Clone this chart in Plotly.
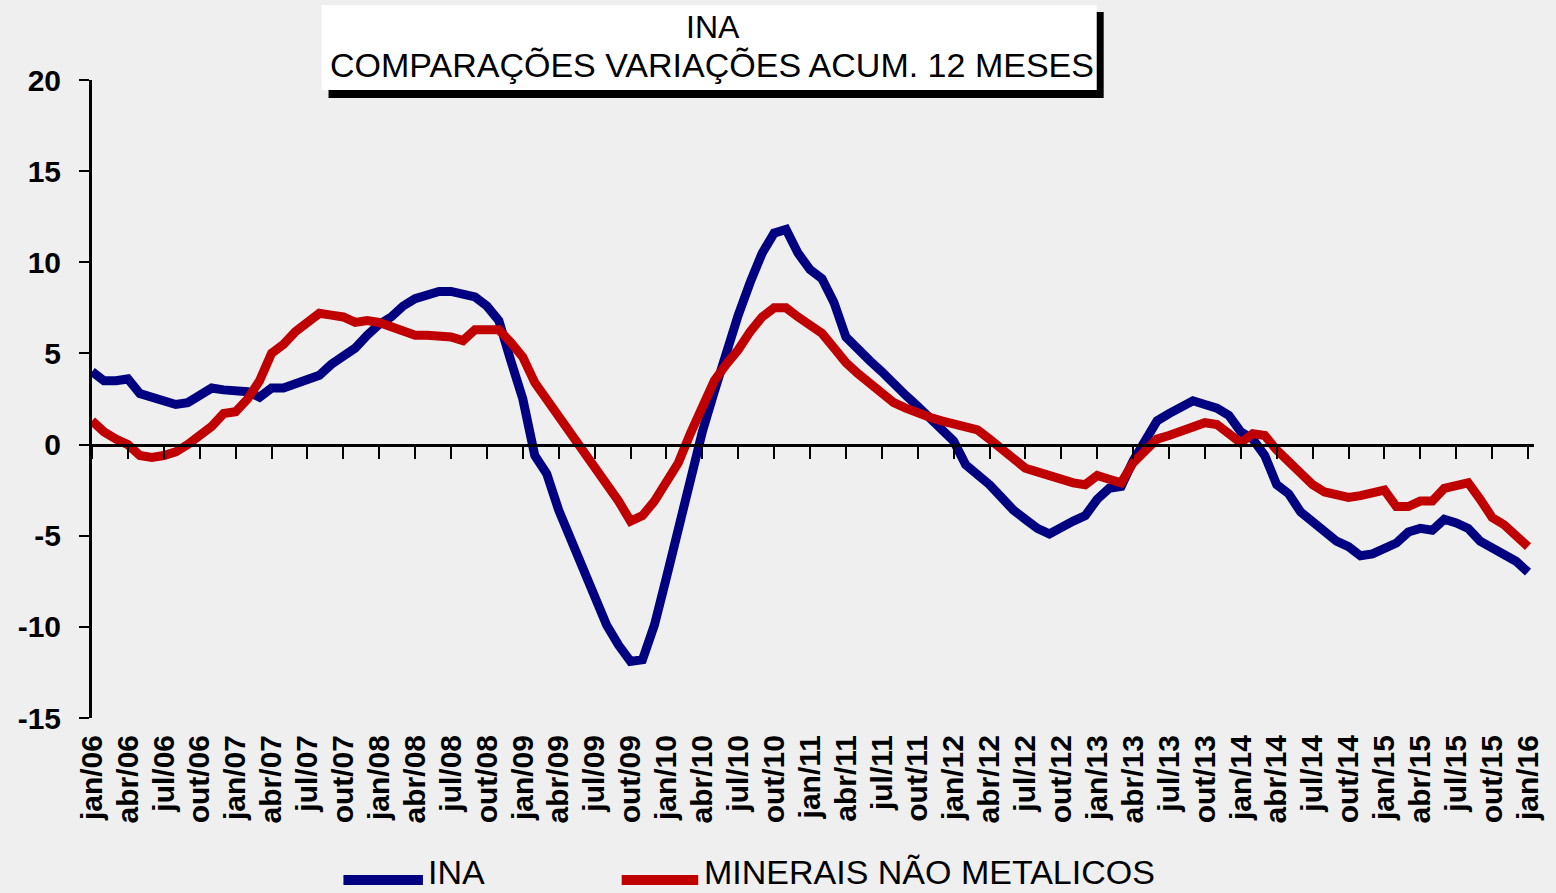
import plotly.graph_objects as go

# ---------------- data ----------------
month_abbr = ["jan", "fev", "mar", "abr", "mai", "jun", "jul", "ago", "set", "out", "nov", "dez"]
years = list(range(6, 17))
categories = [f"{m}/{y:02d}" for y in years for m in month_abbr][:121]
tick_labels = categories[::3]

ina = [
    4.0, 3.5, 3.5, 3.6, 2.8, 2.6, 2.3, 2.2, 2.3, 2.7, 3.1, 3.0,
    3.0, 2.9, 2.6, 3.1, 3.1, 3.3, 3.5, 3.8, 4.4, 4.8, 5.3, 6.0,
    6.6, 7.0, 7.6, 8.0, 8.2, 8.4, 8.4, 8.3, 8.1, 7.6, 6.8, 4.6,
    2.5, -0.6, -1.6, -3.6, -5.2, -6.7, -8.6, -9.9, -11.0, -11.9, -11.8, -9.9,
    -7.3, -4.5, -1.8, 0.7, 2.9, 5.2, 7.1, 8.9, 10.5, 11.6, 11.8, 10.5,
    9.6, 9.1, 7.8, 5.9, 5.2, 4.6, 4.0, 3.3, 2.7, 2.1, 1.5, 0.8,
    0.2, -1.1, -1.6, -2.2, -2.9, -3.6, -4.1, -4.6, -4.9, -4.5, -4.2, -3.9,
    -3.0, -2.4, -2.3, -0.9, 0.3, 1.3, 1.7, 2.0, 2.4, 2.2, 2.0, 1.6,
    0.7, 0.3, -0.6, -2.2, -2.7, -3.7, -4.2, -4.8, -5.3, -5.6, -6.1, -6.0,
    -5.7, -5.4, -4.8, -4.6, -4.7, -4.1, -4.3, -4.6, -5.3, -5.7, -6.0, -6.4,
    -7.0,
]

minerais = [
    1.3, 0.7, 0.3, 0.0, -0.6, -0.7, -0.6, -0.4, 0.0, 0.5, 1.0, 1.7,
    1.8, 2.5, 3.5, 5.0, 5.5, 6.2, 6.7, 7.2, 7.1, 7.0, 6.7, 6.8,
    6.7, 6.5, 6.2, 6.0, 6.0, 6.0, 5.9, 5.7, 6.3, 6.3, 6.3, 5.6,
    4.8, 3.4, 2.5, 1.6, 0.6, -0.4, -1.3, -2.1, -3.1, -4.2, -3.9, -3.1,
    -2.1, -1.0, 0.6, 2.2, 3.5, 4.4, 5.2, 6.2, 7.0, 7.5, 7.5, 7.0,
    6.5, 6.1, 5.3, 4.5, 3.9, 3.4, 2.8, 2.3, 2.0, 1.7, 1.5, 1.3,
    1.1, 0.9, 0.8, 0.3, -0.2, -0.8, -1.3, -1.5, -1.7, -2.0, -2.1, -2.2,
    -1.7, -1.9, -2.1, -1.0, -0.4, 0.3, 0.5, 0.7, 0.9, 1.2, 1.1, 0.6,
    0.1, 0.6, 0.5, -0.3, -0.9, -1.6, -2.2, -2.6, -2.8, -2.9, -2.8, -2.6,
    -2.5, -3.4, -3.4, -3.1, -3.1, -2.4, -2.3, -2.1, -3.0, -4.0, -4.4, -5.0,
    -5.6,
]

series_names = ["INA", "MINERAIS NÃO METALICOS"]
series_colors = ["#000080", "#c00000"]
y_ticks = [20, 15, 10, 5, 0, -5, -10, -15]
y_tick_text = ["20", "15", "10", "5", "0", "-5", "-10", "-15"]
title_lines = ["INA", "COMPARAÇÕES VARIAÇÕES ACUM. 12 MESES"]

# ---------------- layout helpers ----------------
W, H = 1556, 893
L, R, T, B = 92, 13, 80, 175
PW, PH = W - L - R, H - T - B


def px(x):
    return (x - L) / PW


def py(y):
    return (H - B - y) / PH


FONT = "Liberation Sans, Arial, sans-serif"

fig = go.Figure()
fig.add_trace(go.Scatter(x=categories, y=ina, name=series_names[0], mode="lines",
                         line=dict(color=series_colors[0], width=9), xaxis="x", yaxis="y"))
fig.add_trace(go.Scatter(x=categories, y=minerais, name=series_names[1], mode="lines",
                         line=dict(color=series_colors[1], width=9), xaxis="x2", yaxis="y"))

shapes = []
annotations = []

# title box with shadow
shapes.append(dict(type="rect", xref="paper", yref="paper", x0=px(330), x1=px(1110), y0=py(98), y1=py(12),
                   fillcolor="black", line=dict(width=0), layer="above"))
shapes.append(dict(type="rect", xref="paper", yref="paper", x0=px(323), x1=px(1103), y0=py(90), y1=py(5),
                   fillcolor="white", line=dict(width=0), layer="above"))
annotations.append(dict(text=title_lines[0], xref="paper", yref="paper", x=px(717), y=py(27),
                        xanchor="center", yanchor="middle", showarrow=False,
                        font=dict(family=FONT, size=32, color="black")))
annotations.append(dict(text=title_lines[1], xref="paper", yref="paper", x=px(716), y=py(65),
                        xanchor="center", yanchor="middle", showarrow=False,
                        font=dict(family=FONT, size=34, color="black")))

# legend (drawn manually to match long line samples)
legend_pos = [(345, 425, 428), (625, 702, 706)]
for (x0, x1, xt), name, col in zip(legend_pos, series_names, series_colors):
    shapes.append(dict(type="line", xref="paper", yref="paper", x0=px(x0), x1=px(x1), y0=py(880), y1=py(880),
                       line=dict(color=col, width=10)))
    annotations.append(dict(text=name, xref="paper", yref="paper", x=px(xt), y=py(893),
                            xanchor="left", yanchor="bottom", showarrow=False,
                            font=dict(family=FONT, size=34, color="black")))

fig.update_layout(
    width=W, height=H,
    margin=dict(l=L, r=R, t=T, b=B, pad=0),
    paper_bgcolor="#efefef",
    plot_bgcolor="rgba(0,0,0,0)",
    showlegend=False,
    font=dict(family=FONT, color="black"),
    xaxis=dict(
        type="category", categoryorder="array", categoryarray=categories,
        range=[0, 120.5], showgrid=False, zeroline=False, showline=False, ticks="",
        tickmode="array", tickvals=tick_labels, ticktext=tick_labels, tickangle=-90,
        tickfont=dict(family=FONT, size=30, color="black", weight="bold"),
        ticklabelstandoff=10,
    ),
    xaxis2=dict(
        type="category", categoryorder="array", categoryarray=categories,
        matches="x", overlaying="x", anchor="free", position=15 / 35,
        range=[0, 120.5], showgrid=False, zeroline=False, showline=True, linecolor="black", linewidth=3,
        ticks="outside", ticklen=12, tickwidth=2, tickcolor="black",
        tickmode="array", tickvals=tick_labels, showticklabels=False,
    ),
    yaxis=dict(
        range=[-15, 20], tickmode="array", tickvals=y_ticks, ticktext=y_tick_text,
        showgrid=False, zeroline=False,
        showline=True, linecolor="black", linewidth=3, ticks="outside", ticklen=10, tickwidth=2,
        tickcolor="black", tickfont=dict(family=FONT, size=30, color="black", weight="bold"),
        ticklabelstandoff=12,
    ),
    shapes=shapes,
    annotations=annotations,
)

fig.write_html(
    "out.html",
    config={"displayModeBar": False},
    post_script="document.body.style.margin='0';document.body.style.background='#efefef';",
)
